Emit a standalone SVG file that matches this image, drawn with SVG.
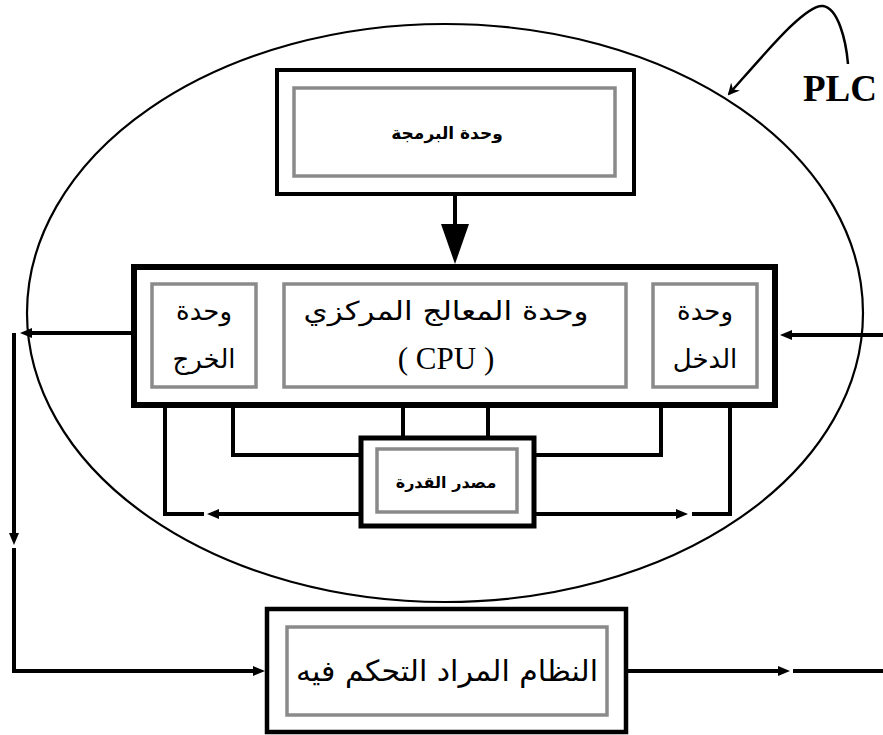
<svg xmlns="http://www.w3.org/2000/svg" width="883" height="735" viewBox="0 0 883 735">
<style>
.outer{fill:#fff;stroke:#000}
.inner{fill:#fff;stroke:#8a8a8a;stroke-width:3.5}
.ar{font-family:"DejaVu Sans",sans-serif;fill:#000;text-anchor:middle}
.sm{font-size:17px;font-weight:bold}
.big{font-size:26px}
.ser{font-family:"Liberation Serif",serif;fill:#000;text-anchor:middle}
.ln{fill:none;stroke:#000;stroke-width:4}
</style>
<defs>
<marker id="ah" markerUnits="userSpaceOnUse" markerWidth="12" markerHeight="10" refX="0" refY="5" orient="auto" viewBox="0 0 12 10">
<path d="M0,0 L12,5 L0,10 z" fill="#000"/>
</marker>
<marker id="bigah" markerUnits="userSpaceOnUse" markerWidth="40" markerHeight="28" refX="0" refY="14" orient="auto" viewBox="0 0 40 28">
<path d="M0,0 L40,14 L0,28 z" fill="#000"/>
</marker>
<marker id="plcah" markerUnits="userSpaceOnUse" markerWidth="12" markerHeight="12" refX="10" refY="6" orient="auto" viewBox="0 0 12 12">
<path d="M0,0 L12,6 L0,12 L4,6 z" fill="#000"/>
</marker>
</defs>
<rect width="883" height="735" fill="#fff"/>

<g id="plc-boundary">
<ellipse cx="445" cy="313" rx="418" ry="289" fill="none" stroke="#000" stroke-width="2.2"/>
<text x="840" y="101" class="ser" font-size="37" font-weight="bold">PLC</text>
</g>

<g id="programming-unit">
<rect class="outer" x="277" y="70" width="357" height="124" stroke-width="4"/>
<rect class="inner" x="294" y="88" width="321" height="88"/>
<text class="ar sm" x="447" y="139">وحدة البرمجة</text>
</g>

<g id="cpu-frame">
<rect class="outer" x="134" y="267" width="641" height="138" stroke-width="6"/>
</g>

<g id="output-unit">
<rect class="inner" x="152" y="284" width="104" height="103"/>
<text class="ar big" x="204" y="320">وحدة</text>
<text class="ar big" x="204" y="368">الخرج</text>
</g>

<g id="cpu-unit">
<rect class="inner" x="284" y="284" width="342" height="103"/>
<text class="ar big" x="446" y="320" textLength="285" lengthAdjust="spacingAndGlyphs">وحدة المعالج المركزي</text>
<text class="ser" x="446" y="369" font-size="31">( CPU )</text>
</g>

<g id="input-unit">
<rect class="inner" x="653" y="284" width="104" height="103"/>
<text class="ar big" x="705" y="320">وحدة</text>
<text class="ar big" x="705" y="368">الدخل</text>
</g>

<g id="power-supply">
<rect class="outer" x="361" y="438" width="173" height="88" stroke-width="5"/>
<rect class="inner" x="377" y="449" width="140" height="63" stroke-width="3"/>
<text class="ar" x="446" y="488" font-size="16" font-weight="bold">مصدر القدرة</text>
</g>

<g id="controlled-system">
<rect class="outer" x="267" y="609" width="359" height="123" stroke-width="4.5"/>
<rect class="inner" x="287" y="627" width="320" height="88"/>
<text class="ar" x="447" y="681" font-size="29" textLength="302" lengthAdjust="spacingAndGlyphs">النظام المراد التحكم فيه</text>
</g>

<g id="connectors">
<path class="ln" d="M455,194 V224" stroke-width="5" marker-end="url(#bigah)"/>
<path class="ln" d="M883,335 H792" marker-end="url(#ah)"/>
<path class="ln" d="M131,333 H32" marker-end="url(#ah)"/>
<path class="ln" d="M14,333 V533" marker-end="url(#ah)"/>
<path class="ln" d="M14,548 V671 H253" stroke-width="4.5" marker-end="url(#ah)"/>
<path class="ln" d="M626,671 H778" stroke-width="5" marker-end="url(#ah)"/>
<path class="ln" d="M793,671 H883" stroke-width="5"/>
<path class="ln" d="M165,407 V514 H204"/>
<path class="ln" d="M359,514 H219" marker-end="url(#ah)"/>
<path class="ln" d="M536,514 H676" marker-end="url(#ah)"/>
<path class="ln" d="M692,514 H730 V407"/>
<path class="ln" d="M233,407 V455 H359"/>
<path class="ln" d="M536,455 H661 V407"/>
<path class="ln" d="M403,407 V436"/>
<path class="ln" d="M488,407 V436"/>
<path d="M848,64 C846,40 838,8 823,6 C806,4 768,50 729,94" fill="none" stroke="#000" stroke-width="2.5" marker-end="url(#plcah)"/>
</g>
</svg>
